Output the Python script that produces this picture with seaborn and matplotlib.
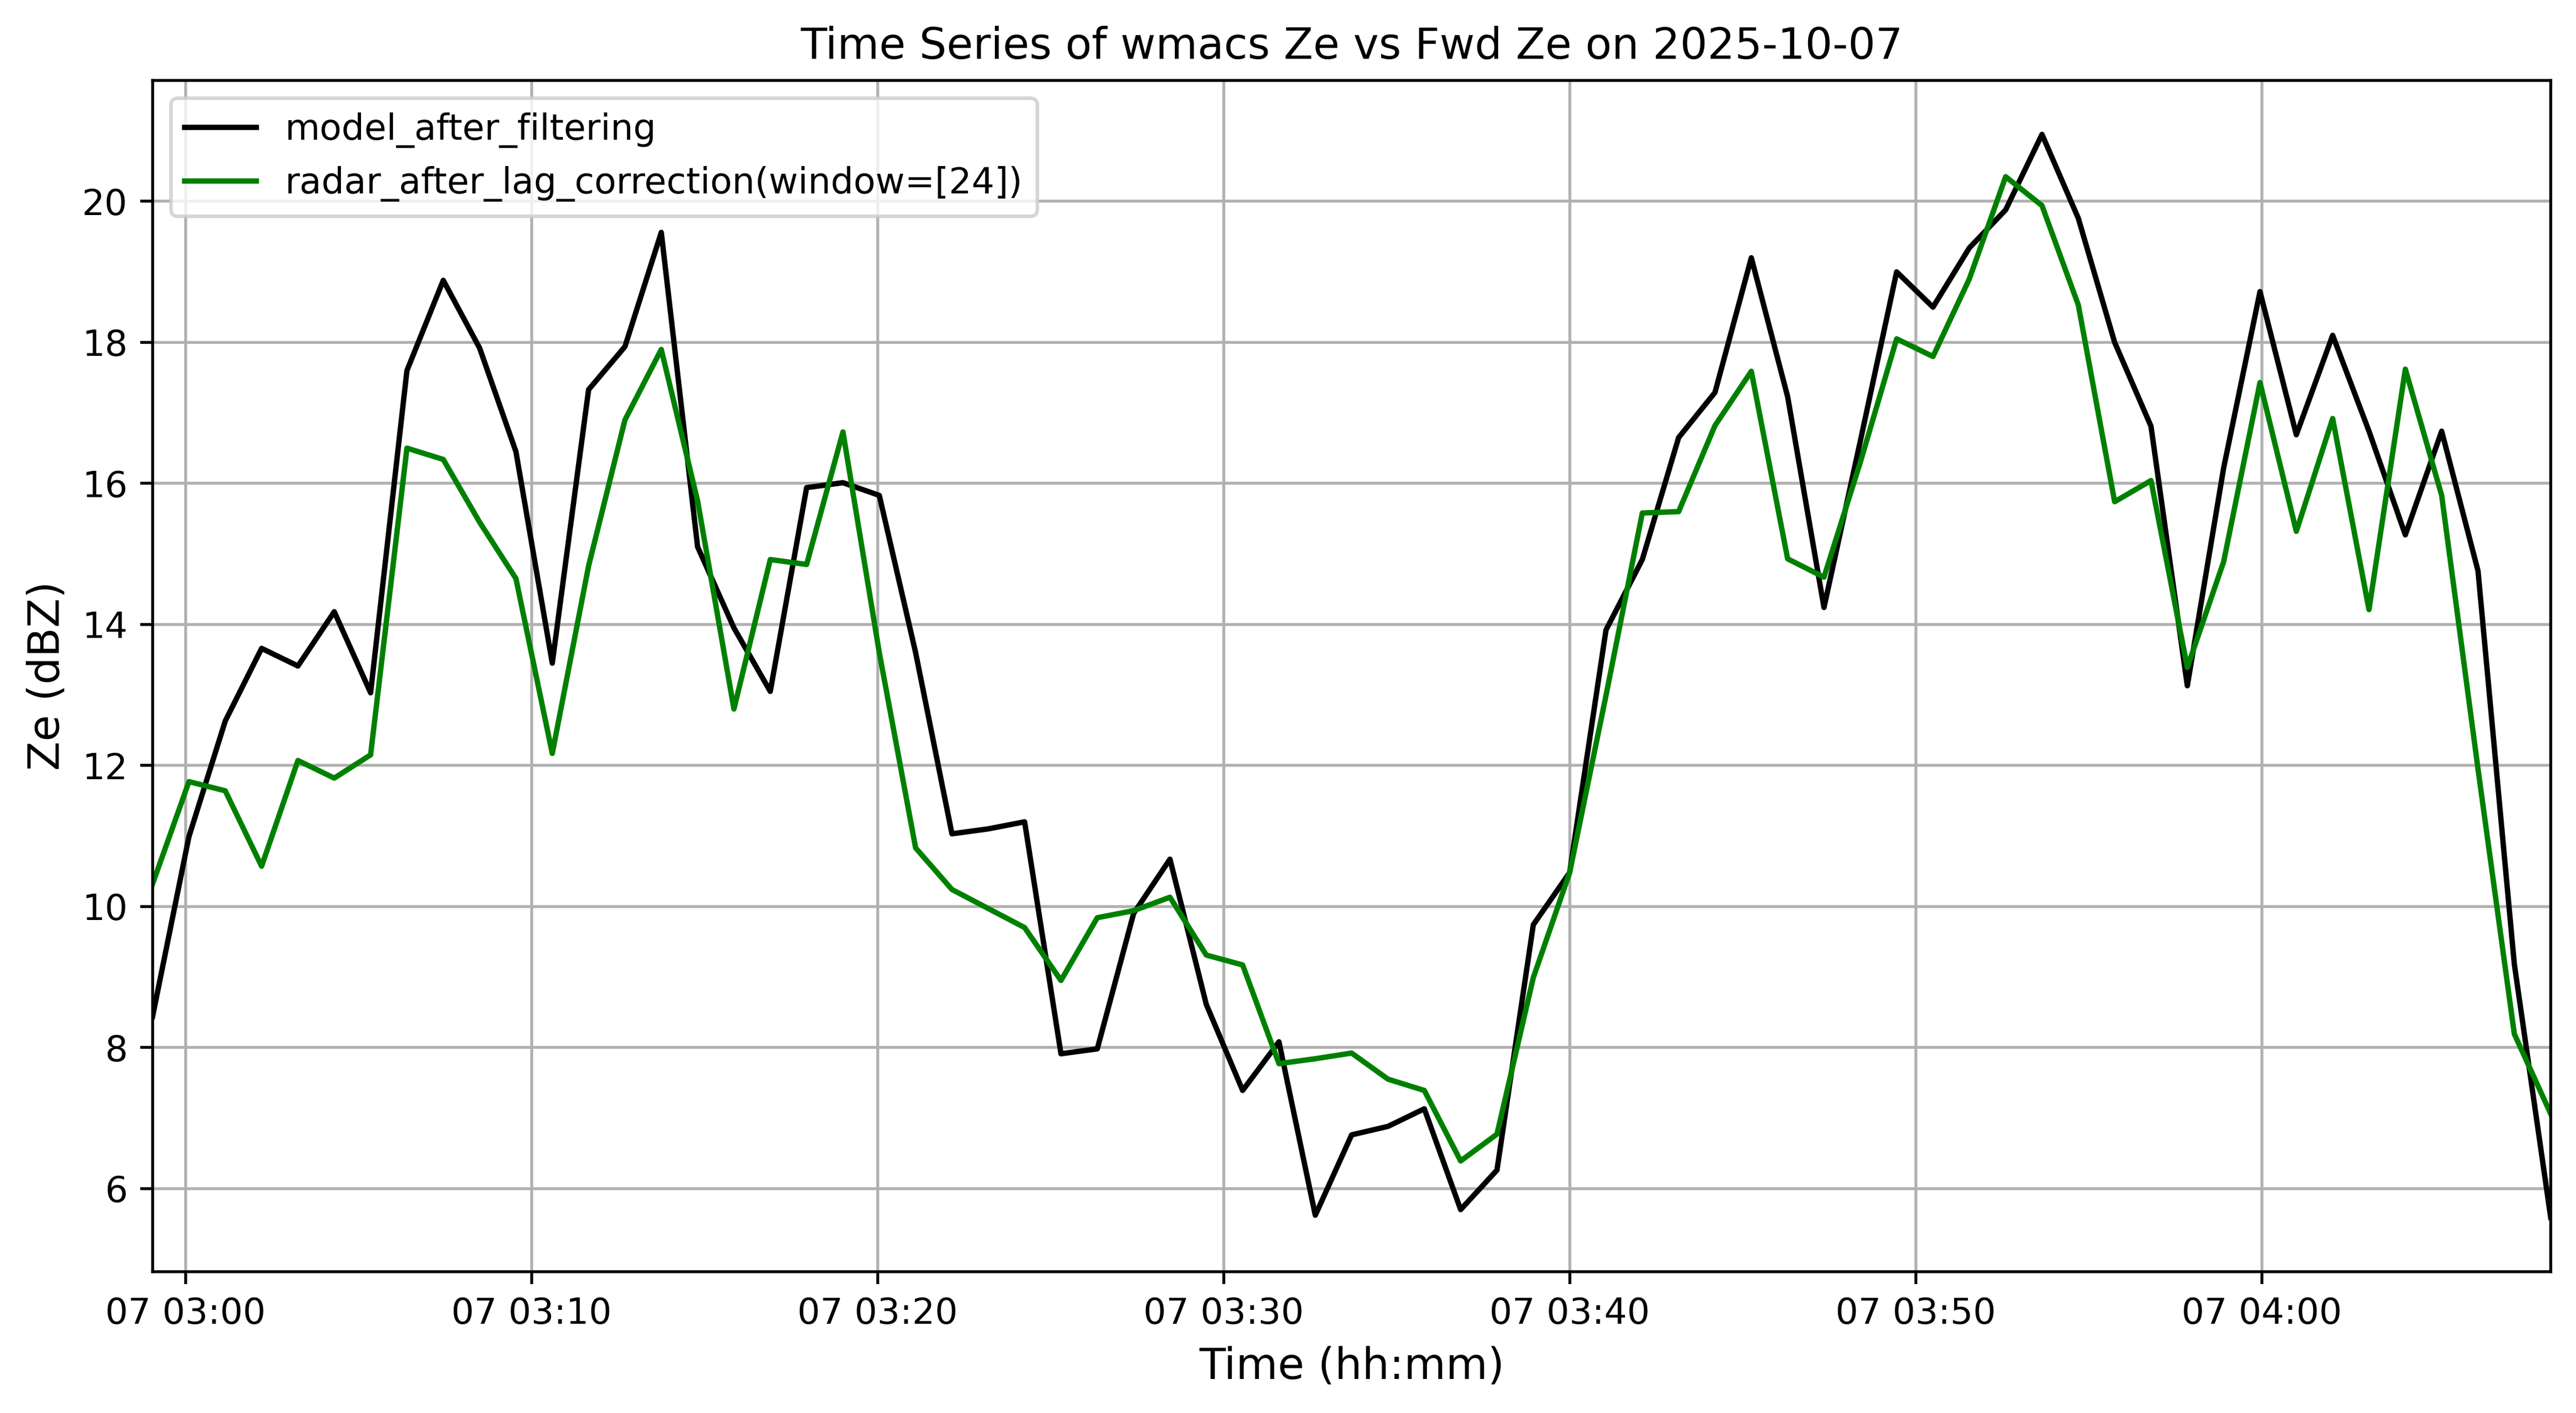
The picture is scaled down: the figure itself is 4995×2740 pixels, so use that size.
import numpy as np
import pandas as pd

import matplotlib
matplotlib.use("Agg")
import matplotlib.pyplot as plt
import matplotlib.dates as mdates
import seaborn as sns

# =====================================================
# DATA
# =====================================================
start_time = "2025-10-07 02:59:03"
step = "63s"

model_ze = [
    8.44, 10.99, 12.63, 13.66, 13.41, 14.18, 13.03, 17.60, 18.88, 17.92,
    16.45, 13.45, 17.33, 17.94, 19.56, 15.10, 13.95, 13.05, 15.94, 16.01,
    15.83, 13.60, 11.03, 11.10, 11.20, 7.91, 7.98, 9.90, 10.67, 8.61,
    7.39, 8.08, 5.62, 6.76, 6.88, 7.13, 5.70, 6.26, 9.74, 10.48,
    13.92, 14.92, 16.65, 17.29, 19.20, 17.23, 14.24, 16.60, 19.00, 18.50,
    19.34, 19.88, 20.95, 19.76, 18.00, 16.81, 13.13, 16.22, 18.72, 16.69,
    18.10, 16.74, 15.27, 16.74, 14.76, 9.18, 5.59,
]

radar_ze = [
    10.32, 11.77, 11.64, 10.57, 12.07, 11.82, 12.15, 16.50, 16.34, 15.45,
    14.65, 12.17, 14.83, 16.90, 17.90, 15.75, 12.80, 14.92, 14.85, 16.73,
    13.60, 10.83, 10.24, 9.97, 9.70, 8.95, 9.84, 9.94, 10.13, 9.31,
    9.17, 7.77, 7.84, 7.92, 7.55, 7.39, 6.39, 6.77, 8.99, 10.48,
    12.99, 15.58, 15.60, 16.82, 17.59, 14.93, 14.67, 16.30, 18.05, 17.80,
    18.90, 20.35, 19.94, 18.53, 15.74, 16.04, 13.39, 14.89, 17.43, 15.32,
    16.92, 14.21, 17.62, 15.83, 11.95, 8.19, 7.06,
]

times = pd.date_range(start_time, periods=len(model_ze), freq=step)

df = pd.DataFrame({
    "time": times,
    "model": model_ze,
    "radar": radar_ze,
})

# =====================================================
# PLOT
# =====================================================
fig, ax = plt.subplots(figsize=(12, 6))

sns.lineplot(
    data=df,
    x="time",
    y="model",
    color="black",
    linewidth=1.5,
    label="model_after_filtering",
    ax=ax
)

sns.lineplot(
    data=df,
    x="time",
    y="radar",
    color="green",
    linewidth=1.5,
    label="radar_after_lag_correction(window=[24])",
    ax=ax
)

ax.set_xlim(times[0], times[-1])
ax.xaxis.set_major_locator(mdates.MinuteLocator(byminute=range(0, 60, 10)))
ax.xaxis.set_major_formatter(mdates.DateFormatter("%d %H:%M"))

ax.set_xlabel("Time (hh:mm)", fontsize=12)
ax.set_ylabel("Ze (dBZ)", fontsize=12)
ax.set_title("Time Series of wmacs Ze vs Fwd Ze on 2025-10-07", fontsize=12)

ax.grid(True)
ax.legend(loc="upper left")

fig.savefig("out.png", dpi=500, bbox_inches="tight")
plt.close(fig)
